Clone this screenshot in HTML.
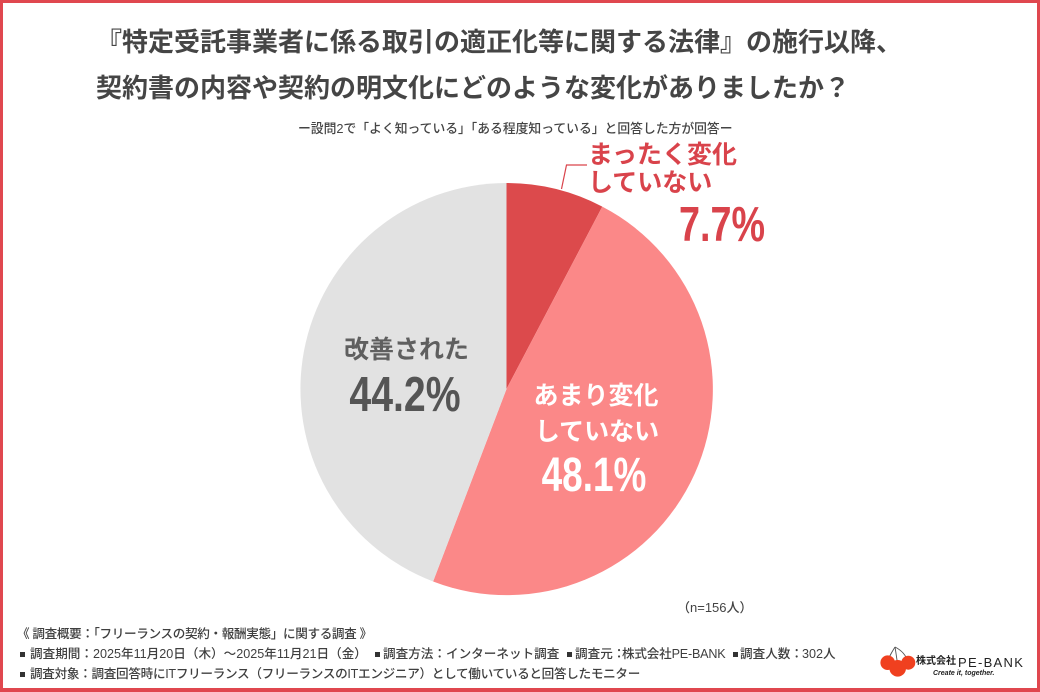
<!DOCTYPE html>
<html>
<head>
<meta charset="utf-8">
<style>
  html, body { margin:0; padding:0; }
  body { width:1040px; height:692px; background:#e0474f; position:relative; overflow:hidden;
         font-family:"Liberation Sans","Noto Sans CJK JP",sans-serif; }
  .inner { position:absolute; left:3px; top:3px; width:1034px; height:685px; background:#fff; }
  .t { position:absolute; white-space:nowrap; }
  .title { font-size:26px; line-height:26px; font-weight:700; color:#454545; left:96px; }
  .foot { font-size:12.6px; line-height:13px; color:#3f3f3f; font-weight:500; }
  .bul { position:absolute; width:5px; height:5px; background:#333; }
  .pct { font-family:"Liberation Sans",sans-serif; font-weight:700; line-height:1; transform-origin:50% 50%; }
</style>
</head>
<body>
<div class="inner"></div>

<div class="t title" style="top:28.8px;">『特定受託事業者に係る取引の適正化等に関する法律』の施行以降、</div>
<div class="t title" style="top:74.8px;">契約書の内容や契約の明文化にどのような変化がありましたか？</div>

<div class="t" style="left:298px; top:122.8px; font-size:12.8px; line-height:12.8px; color:#444; font-weight:500;">ー設問2で「よく知っている」「ある程度知っている」と回答した方が回答ー</div>

<svg style="position:absolute;left:0;top:0;" width="1040" height="692" viewBox="0 0 1040 692">
  <path d="M506.5,389 L506.5,183 A206,206 0 0 1 602.3,206.6 Z" fill="#dc4a4c"/>
  <path d="M506.5,389 L602.3,206.6 A206,206 0 0 1 433.1,581.5 Z" fill="#fb8888"/>
  <path d="M506.5,389 L433.1,581.5 A206,206 0 0 1 506.5,183 Z" fill="#e2e2e2"/>
  <polyline points="561.5,189 566.5,165 587,165" fill="none" stroke="#d9434b" stroke-width="1.2"/>
  <!-- logo cherries -->
  <path d="M895,647 C892,652 889,656 888,662" fill="none" stroke="#555" stroke-width="0.9"/>
  <path d="M895,647 C896,653 897,660 898,667" fill="none" stroke="#555" stroke-width="0.9"/>
  <path d="M895,647 C901,650 906,655 908,662" fill="none" stroke="#555" stroke-width="0.9"/>
  <circle cx="887.7" cy="662.7" r="7.3" fill="#f0401f"/>
  <circle cx="908.3" cy="662.7" r="7" fill="#f0401f"/>
  <circle cx="897.7" cy="668.3" r="8.3" fill="#f0401f"/>
</svg>

<!-- red label -->
<div class="t" style="left:588px; top:142.8px; font-size:25px; line-height:25px; font-weight:700; color:#d9434b;">まったく変化</div>
<div class="t" style="left:588px; top:170.8px; font-size:25px; line-height:25px; font-weight:700; color:#d9434b;">していない</div>
<div class="t pct" style="left:721.5px; top:200.6px; font-size:49px; color:#d9434b; transform:translateX(-50%) scaleX(0.77);">7.7%</div>

<!-- gray label -->
<div class="t" style="left:344px; top:338.3px; font-size:25px; line-height:25px; font-weight:700; color:#5f5f5f;">改善された</div>
<div class="t pct" style="left:405px; top:370.6px; font-size:49px; color:#555; transform:translateX(-50%) scaleX(0.8);">44.2%</div>

<!-- pink label -->
<div class="t" style="left:496px; width:200px; text-align:center; top:384.3px; font-size:25px; line-height:25px; font-weight:700; color:#fff;">あまり変化</div>
<div class="t" style="left:497px; width:200px; text-align:center; top:420.3px; font-size:25px; line-height:25px; font-weight:700; color:#fff;">していない</div>
<div class="t pct" style="left:594px; top:451.7px; font-size:48px; color:#fff; transform:translateX(-50%) scaleX(0.77);">48.1%</div>

<div class="t" style="left:677px; top:600.9px; font-size:13px; line-height:13px; color:#444; font-weight:500;">（n=156人）</div>

<!-- footer -->
<div class="t foot" style="left:17px; top:628.4px; letter-spacing:-0.35px;">《 調査概要：「フリーランスの契約・報酬実態」に関する調査 》</div>

<div class="bul" style="left:20px; top:652px;"></div>
<div class="t foot" style="left:30px; top:648.4px;">調査期間：2025年11月20日（木）〜2025年11月21日（金）</div>
<div class="bul" style="left:375px; top:652px;"></div>
<div class="t foot" style="left:383px; top:648.4px;">調査方法：インターネット調査</div>
<div class="bul" style="left:567px; top:652px;"></div>
<div class="t foot" style="left:575px; top:648.4px;">調査元：</div>
<div class="t foot" style="left:622px; top:648.4px; letter-spacing:-0.2px;">株式会社PE-BANK</div>
<div class="bul" style="left:733px; top:652px;"></div>
<div class="t foot" style="left:740px; top:648.4px;">調査人数：</div>
<div class="t foot" style="left:802px; top:648.4px;">302人</div>

<div class="bul" style="left:20px; top:671.5px;"></div>
<div class="t foot" style="left:30px; top:667.9px; letter-spacing:-0.3px;">調査対象：調査回答時にITフリーランス（フリーランスのITエンジニア）として働いていると回答したモニター</div>

<!-- logo text -->
<div class="t" style="left:916px; top:657px; font-size:10px; line-height:10px; font-weight:700; color:#222;">株式会社</div>
<div class="t" style="left:958px; top:655.5px; font-size:13px; line-height:13px; letter-spacing:1.3px; color:#222;">PE-BANK</div>
<div class="t" style="left:933px; top:669.5px; font-size:7px; line-height:7px; font-weight:700; font-style:italic; color:#222;">Create it, together.</div>
</body>
</html>
